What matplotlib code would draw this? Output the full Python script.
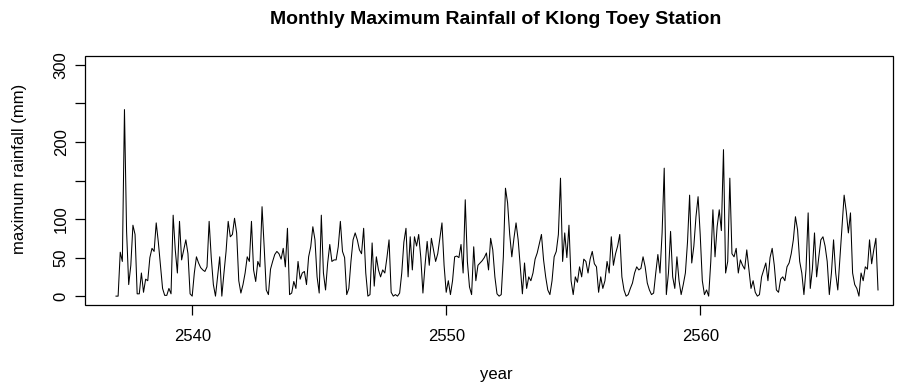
import numpy as np
import matplotlib
matplotlib.use("Agg")
import matplotlib.pyplot as plt
from matplotlib.patches import Rectangle

# Monthly maximum rainfall (mm)
rain_2537_2546 = [
    0, 0, 57, 45, 242, 84, 15, 40, 92, 80, 3, 3,
    30, 5, 22, 20, 50, 62, 58, 95, 70, 40, 10, 1,
    1, 10, 3, 105, 60, 30, 97, 47, 60, 73, 55, 3,
    0, 30, 51, 43, 37, 34, 32, 38, 97, 50, 15, 0,
    25, 51, 0, 30, 58, 97, 77, 80, 101, 82, 20, 4,
    15, 30, 51, 45, 97, 34, 19, 45, 38, 116, 64, 8,
    2, 35, 45, 54, 58, 55, 48, 62, 38, 88, 2, 4,
    19, 10, 45, 22, 30, 32, 15, 51, 64, 90, 73, 25,
    4, 105, 30, 8, 43, 67, 45, 47, 47, 64, 97, 58,
    50, 2, 10, 45, 73, 82, 73, 60, 55, 88, 30, 0,
]
rain_2547_2556 = [
    2, 69, 13, 51, 34, 25, 34, 30, 50, 73, 5, 0,
    2, 0, 4, 30, 70, 88, 25, 77, 34, 77, 65, 80,
    50, 4, 40, 71, 40, 75, 60, 45, 55, 75, 95, 40,
    5, 20, 2, 20, 51, 52, 50, 67, 30, 125, 45, 12,
    2, 64, 20, 40, 43, 46, 50, 56, 34, 75, 60, 25,
    3, 0, 2, 51, 140, 121, 80, 51, 75, 95, 73, 38,
    3, 43, 10, 25, 20, 30, 48, 56, 68, 80, 47, 25,
    8, 2, 20, 51, 58, 80, 153, 45, 82, 50, 92, 20,
    2, 25, 18, 38, 25, 48, 45, 30, 48, 58, 42, 38,
    5, 25, 10, 20, 45, 30, 77, 40, 55, 65, 80, 25,
]
rain_2557_2567 = [
    8, 0, 2, 10, 17, 30, 38, 34, 36, 51, 38, 17,
    8, 2, 4, 30, 54, 30, 82, 166, 2, 30, 84, 25,
    10, 51, 20, 2, 15, 30, 70, 131, 43, 65, 103, 129,
    80, 20, 2, 8, 0, 45, 112, 51, 90, 112, 85, 190,
    30, 45, 153, 55, 51, 62, 30, 47, 40, 35, 60, 35,
    10, 20, 5, 0, 2, 25, 34, 43, 20, 50, 62, 40,
    8, 5, 22, 25, 20, 38, 43, 55, 73, 103, 86, 45,
    30, 2, 35, 108, 10, 35, 82, 25, 50, 73, 77, 65,
    45, 2, 30, 73, 30, 8, 50, 90, 131, 110, 82, 108,
    30, 15, 10, 0, 30, 20, 38, 35, 73, 42, 60, 75,
    8,
]

start_year = 2537
x_ticks = [2540, 2550, 2560]
y_ticks = [0, 50, 100, 150, 200, 250, 300]
y_tick_labels = ["0", "50", "100", "", "200", "", "300"]

rain = np.array(rain_2537_2546 + rain_2547_2556 + rain_2557_2567, dtype=float)
years = start_year + np.arange(len(rain)) / 12.0

plt.rcParams["font.family"] = ["Liberation Sans", "DejaVu Sans"]

W, H = 903, 383
fig = plt.figure(figsize=(W / 100, H / 100), dpi=100)
left_px, right_px, top_px, bottom_px = 85.3, 893, 56, 305
ax = fig.add_axes([left_px / W, 1 - bottom_px / H,
                   (right_px - left_px) / W, (bottom_px - top_px) / H])

ax.plot(years, rain, color="black", linewidth=0.75)

px_per_year = 25.4
ax.set_xlim(start_year - (116 - left_px) / px_per_year,
            start_year + (right_px - 116) / px_per_year)
ax.set_ylim(-11.5, 311.5)

for s in ["top", "right", "left", "bottom"]:
    ax.spines[s].set_visible(False)
ax.add_patch(Rectangle((0, 0), 1, 1, transform=ax.transAxes, fill=False,
                       edgecolor="black", linewidth=0.9, clip_on=False))

ax.set_yticks(y_ticks)
ax.set_yticklabels(y_tick_labels, rotation=90, va="center", fontsize=12)
ax.tick_params(axis="y", length=7, width=0.9, pad=5)

ax.set_xticks(x_ticks)
ax.set_xticklabels([str(t) for t in x_ticks], fontsize=12)
ax.tick_params(axis="x", length=7, width=0.9, pad=10)

fig.text(20 / W, 1 - 169 / H, "maximum rainfall (mm)", ha="center", va="center",
         rotation=90, fontsize=12)
fig.text(496 / W, 1 - 374 / H, "year", ha="center", va="center", fontsize=12)
fig.text(496 / W, 1 - 19 / H, "Monthly Maximum Rainfall of Klong Toey Station",
         ha="center", va="center", fontsize=14, fontweight="bold")

fig.savefig("out.png", dpi=100)
